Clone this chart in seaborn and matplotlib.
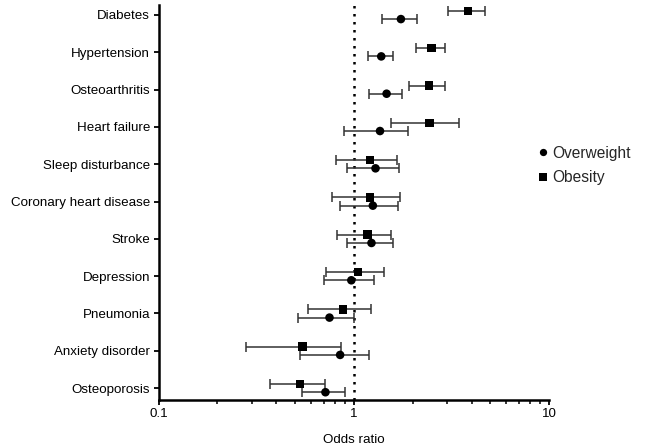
import numpy as np
import pandas as pd
import matplotlib
matplotlib.use("Agg")
import matplotlib.pyplot as plt
import seaborn as sns

conditions = ["Diabetes", "Hypertension", "Osteoarthritis", "Heart failure",
              "Sleep disturbance", "Coronary heart disease", "Stroke",
              "Depression", "Pneumonia", "Anxiety disorder", "Osteoporosis"]

# odds ratios and 95% CI
overweight_or = [1.74, 1.38, 1.47, 1.36, 1.29, 1.25, 1.23, 0.97, 0.75, 0.85, 0.715]
overweight_lo = [1.39, 1.185, 1.20, 0.89, 0.92, 0.85, 0.92, 0.70, 0.52, 0.53, 0.54]
overweight_hi = [2.11, 1.59, 1.77, 1.89, 1.70, 1.69, 1.58, 1.26, 1.00, 1.20, 0.90]

obesity_or = [3.84, 2.49, 2.42, 2.44, 1.21, 1.21, 1.17, 1.05, 0.88, 0.545, 0.53]
obesity_lo = [3.03, 2.08, 1.92, 1.55, 0.81, 0.77, 0.82, 0.72, 0.58, 0.28, 0.37]
obesity_hi = [4.71, 2.94, 2.94, 3.47, 1.66, 1.72, 1.55, 1.42, 1.22, 0.86, 0.71]

groups = ["Overweight", "Obesity"]
offsets = {"Overweight": 0.11, "Obesity": -0.11}

rows = []
for grp, orv, lo, hi in [("Overweight", overweight_or, overweight_lo, overweight_hi),
                         ("Obesity", obesity_or, obesity_lo, obesity_hi)]:
    for i, c in enumerate(conditions):
        rows.append({"condition": c, "group": grp, "OR": orv[i], "lo": lo[i], "hi": hi[i],
                     "y": i + offsets[grp]})
df = pd.DataFrame(rows)

sns.set_theme(style="ticks")
plt.rcParams["font.family"] = ["Liberation Sans", "DejaVu Sans"]

fig = plt.figure(figsize=(6.47, 4.46), dpi=100)
ax = fig.add_axes([0.245, 0.103, 0.604, 0.886])

# error bars first, markers on top
for grp in groups:
    d = df[df.group == grp]
    ax.errorbar(d["OR"], d["y"], xerr=[d["OR"] - d["lo"], d["hi"] - d["OR"]],
                fmt="none", ecolor="#333333", elinewidth=1.1, capsize=3.5,
                capthick=1.1, zorder=2)

sns.scatterplot(data=df, x="OR", y="y", style="group", style_order=groups,
                markers={"Overweight": "o", "Obesity": "s"}, color="black",
                s=38, edgecolor="black", linewidth=0, ax=ax, zorder=3)

ax.axvline(1, color="black", linestyle=(0, (1, 2.2)), linewidth=1.8, zorder=1)

ax.set_xscale("log")
ax.set_xlim(0.1, 10)
ax.set_ylim(len(conditions) - 1 + 0.32, -0.27)
ax.set_xticks([0.1, 1, 10])
ax.set_xticklabels(["0.1", "1", "10"])
ax.set_yticks(range(len(conditions)))
ax.set_yticklabels(conditions)
ax.tick_params(axis="both", labelsize=9.6, colors="black", width=1.3, length=3.5, pad=2.5)
ax.tick_params(axis="x", which="minor", width=1.3, length=3)
ax.set_xlabel("Odds ratio", fontsize=9.6, color="black", labelpad=10)
ax.set_ylabel("")
for s in ["left", "bottom"]:
    ax.spines[s].set_linewidth(1.8)
    ax.spines[s].set_color("black")
sns.despine(ax=ax)

handles, labels = ax.get_legend_handles_labels()
ax.legend(handles, labels, loc="center left", bbox_to_anchor=(0.971, 0.594),
          frameon=False, fontsize=11.2, borderpad=0, borderaxespad=0,
          handlelength=0.65, handletextpad=0.3, labelspacing=0.6,
          markerscale=0.85)

fig.savefig("out.png", dpi=100)
